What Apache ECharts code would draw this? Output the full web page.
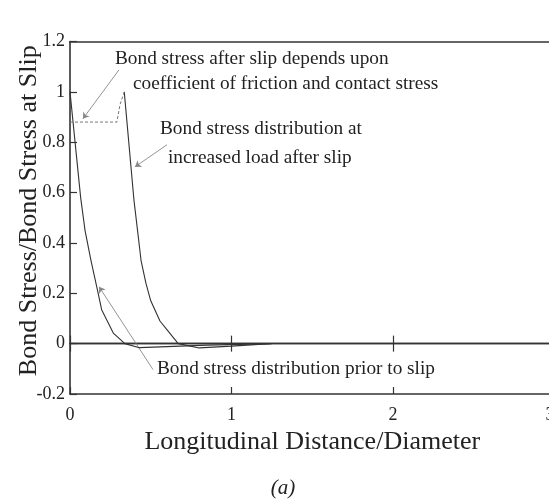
<!DOCTYPE html>
<html><head><meta charset="utf-8">
<script src="https://cdn.jsdelivr.net/npm/echarts@6/dist/echarts.min.js"></script>
<style>html,body{margin:0;padding:0;background:#fff}#c{width:549px;height:501px}</style>
</head><body><div id="c"></div>
<script>
// ---- data ----
const priorX = [0, 0.066, 0.093, 0.13, 0.165, 0.196, 0.268, 0.34, 0.43, 0.6, 0.85, 1.25];
const priorY = [1.0, 0.58, 0.45, 0.33, 0.227, 0.135, 0.042, 0.0, -0.016, -0.012, -0.006, 0];
const afterX = [0.336, 0.396, 0.42, 0.44, 0.47, 0.5, 0.557, 0.6, 0.67, 0.8, 1.0, 1.24];
const afterY = [1.0, 0.57, 0.44, 0.33, 0.24, 0.17, 0.09, 0.056, 0.0, -0.017, -0.01, 0];
const frictionX = [0, 0.29, 0.31, 0.336];
const frictionY = [0.88, 0.88, 0.95, 1.0];
const xTicks = {min: 0, max: 3, interval: 1};
const yTicks = {min: -0.2, max: 1.2, interval: 0.2};
const xTitle = 'Longitudinal Distance/Diameter';
const yTitle = 'Bond Stress/Bond Stress at Slip';
const caption = '(a)';
const notes = [
  {lines: ['Bond stress after slip depends upon', 'coefficient of friction and contact stress'], from: [0.303, 1.087], to: [0.08, 0.893]},
  {lines: ['Bond stress distribution at', 'increased load after slip'], from: [0.601, 0.79], to: [0.402, 0.702]},
  {lines: ['Bond stress distribution prior to slip'], from: [0.514, -0.103], to: [0.18, 0.226]}
];
// ---- chart ----
const zip = (a, b) => a.map((v, i) => [v, b[i]]);
const FONT = '"Liberation Serif", "Times New Roman", serif';
const axisCol = '#333';
const chart = echarts.init(document.getElementById('c'), null, {renderer: 'canvas'});
const baseX = {type: 'value', min: xTicks.min, max: xTicks.max, interval: xTicks.interval, splitLine: {show: false}};
const option = {
  backgroundColor: '#fff',
  animation: false,
  grid: {left: 70, top: 41.5, width: 484.5, bottom: 107, containLabel: false, outerBoundsMode: 'none'},
  xAxis: [
    Object.assign({}, baseX, {
      position: 'bottom',
      axisLine: {onZero: false, lineStyle: {color: axisCol, width: 1.6}},
      axisTick: {inside: true, length: 7, lineStyle: {color: axisCol, width: 1.2}},
      axisLabel: {margin: 12, fontSize: 18, fontFamily: FONT, color: '#222', showMaxLabel: true, alignMaxLabel: 'right'},
      name: xTitle, nameLocation: 'middle', nameGap: 33,
      nameTextStyle: {fontSize: 26, fontFamily: FONT, color: '#222'}
    }),
    Object.assign({}, baseX, {
      position: 'top',
      axisLine: {onZero: false, lineStyle: {color: axisCol, width: 1.6}},
      axisTick: {show: false}, axisLabel: {show: false}
    }),
    Object.assign({}, baseX, {
      position: 'bottom',
      axisLine: {onZero: true, onZeroAxisIndex: 0, lineStyle: {color: axisCol, width: 1.4}},
      axisTick: {inside: true, length: 8, lineStyle: {color: axisCol, width: 1.2}},
      axisLabel: {show: false}
    }),
    Object.assign({}, baseX, {
      position: 'bottom',
      axisLine: {onZero: true, onZeroAxisIndex: 0, lineStyle: {color: axisCol, width: 1.4}},
      axisTick: {inside: false, length: 8, lineStyle: {color: axisCol, width: 1.2}},
      axisLabel: {show: false}
    })
  ],
  yAxis: [{
    type: 'value', min: yTicks.min, max: yTicks.max, interval: yTicks.interval,
    splitLine: {show: false},
    axisLine: {show: true, onZero: false, lineStyle: {color: axisCol, width: 1.6}},
    axisTick: {inside: true, length: 7, lineStyle: {color: axisCol, width: 1.2}},
    axisLabel: {margin: 5, fontSize: 18, fontFamily: FONT, color: '#222',
      formatter: v => String(Math.round(v * 10) / 10)},
    name: yTitle, nameLocation: 'middle', nameGap: 28, nameRotate: 90, nameMoveOverlap: false,
    nameTextStyle: {fontSize: 26, fontFamily: FONT, color: '#222', padding: [0, 0, 0, 14]}
  }],
  series: [
    {type: 'line', data: zip(priorX, priorY), symbol: 'none', lineStyle: {color: '#333', width: 1.1}},
    {type: 'line', data: zip(afterX, afterY), symbol: 'none', lineStyle: {color: '#333', width: 1.1}},
    {type: 'line', data: zip(frictionX, frictionY), symbol: 'none', lineStyle: {color: '#777', width: 1, type: [3, 2]}},
    {type: 'lines', coordinateSystem: 'cartesian2d', xAxisIndex: 0, yAxisIndex: 0,
      symbol: ['none', 'arrow'], symbolSize: 6,
      lineStyle: {color: '#888', width: 0.9, opacity: 1},
      data: notes.map(n => ({coords: [n.from, n.to]}))}
  ],
  graphic: [
    {type: 'text', x: 115, y: 59, style: {text: notes[0].lines[0], font: '19.3px ' + FONT, fill: '#222', verticalAlign: 'middle'}},
    {type: 'text', x: 133, y: 84, style: {text: notes[0].lines[1], font: '19.3px ' + FONT, fill: '#222', verticalAlign: 'middle'}},
    {type: 'text', x: 160, y: 129, style: {text: notes[1].lines[0], font: '19.3px ' + FONT, fill: '#222', verticalAlign: 'middle'}},
    {type: 'text', x: 168, y: 158, style: {text: notes[1].lines[1], font: '19.3px ' + FONT, fill: '#222', verticalAlign: 'middle'}},
    {type: 'text', x: 157, y: 369, style: {text: notes[2].lines[0], font: '19.3px ' + FONT, fill: '#222', verticalAlign: 'middle'}},
    {type: 'text', x: 283, y: 488, style: {text: caption, font: 'italic 21px ' + FONT, fill: '#222', align: 'center', verticalAlign: 'middle'}}
  ]
};
chart.setOption(option);
</script></body></html>
